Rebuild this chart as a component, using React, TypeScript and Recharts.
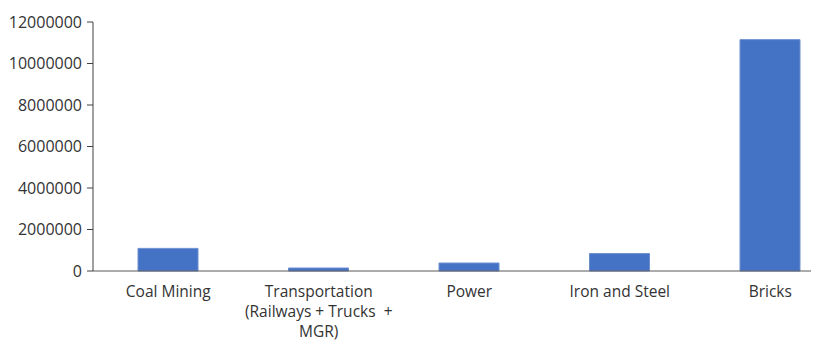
import { BarChart, Bar, XAxis, YAxis } from "recharts";

// categories and values
const categories = [
    "Coal Mining",
    "Transportation\n(Railways + Trucks  +\nMGR)",
    "Power",
    "Iron and Steel",
    "Bricks",
];
const emissions = [1090000, 145000, 385000, 840000, 11150000];
const yTicks = [0, 2000000, 4000000, 6000000, 8000000, 10000000, 12000000];

const data = categories.map((name, i) => ({ name, value: emissions[i] }));

const textColor = "#333333";
const font = "'Open Sans', sans-serif";

const CategoryTick = (props: any) => {
    const { x, y, payload } = props;
    const lines = String(payload.value).split("\n");
    return (
        <text
            x={x}
            y={y}
            textAnchor="middle"
            fill={textColor}
            fontSize={15.5}
            fontFamily={font}
        >
            {lines.map((line, i) => (
                <tspan key={i} x={x} dy={i === 0 ? 26 : 20} style={{ whiteSpace: "pre" }}>
                    {line}
                </tspan>
            ))}
        </text>
    );
};

export default function App() {
    return (
        <div style={{ width: 811, overflow: "hidden" }}>
            <BarChart
                width={840}
                height={333}
                data={data}
                margin={{ top: 14, right: 2.5, left: 0, bottom: 0 }}
            >
                <XAxis
                    dataKey="name"
                    interval={0}
                    tickLine={false}
                    tickSize={0}
                    tickMargin={0}
                    height={70}
                    stroke="#595959"
                    tick={<CategoryTick />}
                />
                <YAxis
                    width={85}
                    domain={[0, 12000000]}
                    ticks={yTicks}
                    interval={0}
                    tickSize={6}
                    tickMargin={5}
                    stroke="#404040"
                    tick={{ fill: textColor, fontSize: 16, fontFamily: font }}
                />
                <Bar
                    dataKey="value"
                    fill="#4472C4"
                    stroke="#6d8fd0"
                    strokeWidth={1}
                    barSize={60}
                    isAnimationActive={false}
                />
            </BarChart>
        </div>
    );
}
